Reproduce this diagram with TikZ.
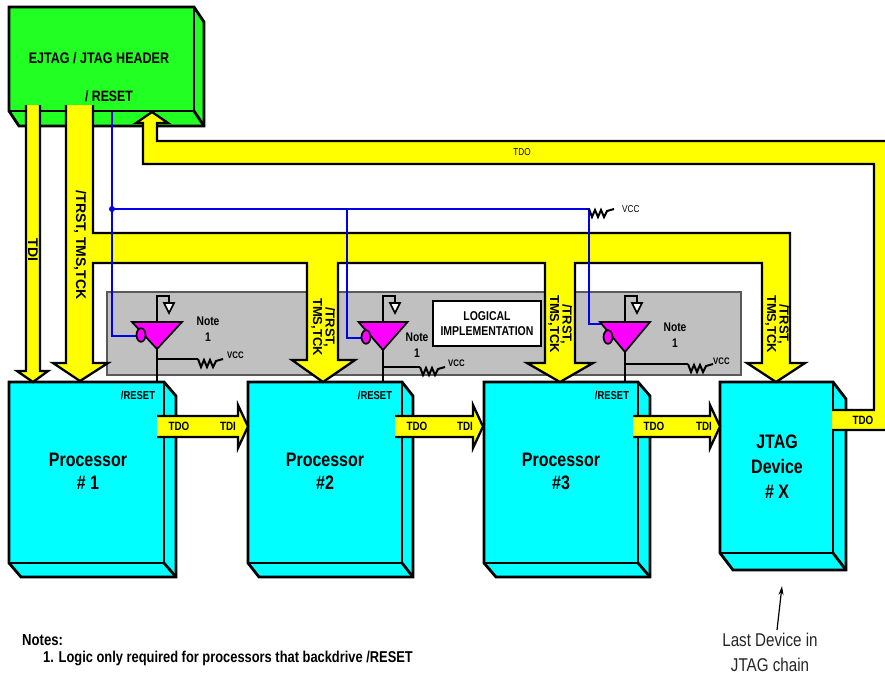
\documentclass[tikz,border=0pt]{standalone}
\usepackage{fontspec}
\setmainfont{Liberation Sans}
\newfontfamily\nar{Liberation Sans}[FakeStretch=0.82]
\usetikzlibrary{arrows.meta}
\definecolor{grn}{HTML}{22FF22}
\definecolor{cyn}{HTML}{00FFFF}
\definecolor{yel}{HTML}{FFFF00}
\definecolor{mag}{HTML}{FF00FF}
\definecolor{gry}{HTML}{C0C0C0}
\definecolor{blu}{HTML}{0000EE}
\tikzset{
  edge/.style={draw=black, line width=2.8pt, line join=miter},
  bus/.style={draw=black, line width=2.3pt, fill=yel, line join=miter},
  blueline/.style={draw=blu, line width=2.4pt},
  wire/.style={draw=black, line width=1.7pt},
  wirethick/.style={draw=black, line width=2.6pt},
  resline/.style={draw=black, line width=2pt, line join=miter},
  nb/.style 2 args={font=\nar\bfseries\fontsize{#1}{#2}\selectfont, inner sep=0pt, align=center},
  nr/.style 2 args={font=\nar\fontsize{#1}{#2}\selectfont, inner sep=0pt, align=center},
  rb/.style 2 args={font=\bfseries\fontsize{#1}{#2}\selectfont, rotate=-90, inner sep=0pt, align=center},
}
% 3D box: x1 y1 x2 y2 dx dy colour
\newcommand\solidbox[7]{%
  \draw[edge, fill=#7] (#1,#2) -- (#3,#2) -- (#3+#5,#2+#6) -- (#3+#5,#4+#6) -- (#1+#5,#4+#6) -- (#1,#4) -- cycle;
  \draw[edge] (#1,#2) rectangle (#3,#4);
  \draw[edge] (#3,#4) -- (#3+#5,#4+#6);}
% TDO->TDI arrow: x start, x head base, x tip
\newcommand\tdoarrow[3]{%
  \draw[bus] (#1,416) -- (#2,416) -- (#2,405) -- (#3,426.5) -- (#2,448) -- (#2,437) -- (#1,437);}
% resistor starting at x,y
\newcommand\resist[2]{%
  \draw[resline] (#1,#2) -- ++(3,8) -- ++(3,-7) -- ++(3,7) -- ++(3,-7) -- ++(3,7) -- ++(3,-6) -- ++(7,-2);}
% inverter: cx, ytop, half width, ytip, bubble x, bubble y
\newcommand\inverter[6]{%
  \draw[wire] (#1,#2) -- (#1,#2-26) -- (#1+12,#2-26) -- (#1+12,#2-19);
  \draw[wire, fill=white] (#1+7,#2-19) -- (#1+17,#2-19) -- (#1+12,#2-9) -- cycle;
  \draw[wire, fill=mag] (#1-#3,#2) -- (#1+#3,#2) -- (#1,#4) -- cycle;
  \draw[wire, fill=mag] (#5,#6) ellipse (4.5pt and 6.8pt);}
\begin{document}
\begin{tikzpicture}[x=1pt,y=-1pt]
\useasboundingbox (0,0) rectangle (885,675);
\clip (0,0) rectangle (885,675);
\fill[white] (0,0) rectangle (885,675);

% grey region of the logic
\draw[draw=black!65, fill=gry, line width=1.2pt] (107,292) rectangle (741,375);
\node[draw=black, line width=1.8pt, fill=white, minimum width=108pt, minimum height=45pt, nb={12.8}{15}] (logic) at (487,323.5) {LOGICAL\\IMPLEMENTATION};

% boxes
\solidbox{9}{7}{194}{111}{10}{15}{grn}
\solidbox{9}{382}{164}{563}{12}{14}{cyn}
\solidbox{248}{382}{402}{563}{11}{14}{cyn}
\solidbox{484}{382}{638}{563}{12}{14}{cyn}
\solidbox{720}{382}{833}{553}{13}{17}{cyn}

% header text
\node[nb={15.3}{17}] (hdr) at (99,58) {EJTAG / JTAG HEADER};
\node[nb={15}{17}] (hdrreset) at (109,96) {/ RESET};

% buses
\draw[bus] (40,105) -- (40,371) -- (48,371) -- (33,382) -- (17,371) -- (26,371) -- (26,105);
\draw[bus] (93,105) -- (93,233) -- (790,233) -- (790,363) -- (805,363) -- (776,382) -- (747,363) -- (762,363)
  -- (762,263) -- (575,263) -- (575,363) -- (593,363) -- (560,382) -- (527,363) -- (545,363)
  -- (545,263) -- (338,263) -- (338,360) -- (355,360) -- (323,382) -- (292,360) -- (307,360)
  -- (307,263) -- (93,263) -- (93,363) -- (108,363) -- (80,381) -- (53,363) -- (66,363) -- (66,105);
\draw[bus] (832,410) -- (874,410) -- (874,164) -- (143,164) -- (143,123) -- (136,123) -- (152,112)
  -- (168,123) -- (157,123) -- (157,141) -- (900,141) -- (900,430) -- (832,430);
\tdoarrow{157}{238}{248}
\tdoarrow{395}{473}{483}
\tdoarrow{633}{710}{720}

% bus labels
\node[rb={14}{14}] (ltdi) at (33,250) {TDI};
\node[rb={14}{14}] (ltrst) at (80,245) {/TRST, TMS,TCK};
\node[rb={13}{12.5}] (ltrst2) at (323,327) {/TRST,\\TMS,TCK};
\node[rb={13}{12.5}] (ltrst3) at (560,324) {/TRST,\\TMS,TCK};
\node[rb={13}{12.5}] (ltrstx) at (777,324) {/TRST,\\TMS,TCK};
\node[nr={10}{10}] (ltdotop) at (522,152) {TDO};
\node[nb={12}{12}] (o1) at (179,426.5) {TDO};
\node[nb={12}{12}] (i2) at (228,426.5) {TDI};
\node[nb={12}{12}] (o2) at (417,426.5) {TDO};
\node[nb={12}{12}] (i3) at (465,426.5) {TDI};
\node[nb={12}{12}] (o3) at (654,426.5) {TDO};
\node[nb={12}{12}] (ix) at (704,426.5) {TDI};
\node[nb={12}{12}] (ox) at (863,420) {TDO};

% box texts
\node[nb={19.5}{23}] (p1) at (88,471.5) {Processor\\\# 1};
\node[nb={19.5}{23}] (p2) at (325,471.5) {Processor\\\#2};
\node[nb={19.5}{23}] (p3) at (561,471.5) {Processor\\\#3};
\node[nb={19.5}{25}] (px) at (777,467) {JTAG\\Device\\\# X};
\node[nb={11.5}{12}] (r1) at (138,395) {/RESET};
\node[nb={11.5}{12}] (r2) at (375,395) {/RESET};
\node[nb={11.5}{12}] (r3) at (612,395) {/RESET};

% reset net (blue)
\coordinate (hr) at (112,112);
\coordinate (jn) at (112,209);
\coordinate (jn2) at (347,209);
\coordinate (pu) at (589,209);
\draw[blueline] (hr) -- (112,336) -- (137,336);
\draw[blueline] (jn) -- (pu) -- (589,324) -- (604,324);
\draw[blueline] (jn2) -- (347,338) -- (362,338);
\fill[blu] (jn) circle (3pt);
\resist{589}{209}
\node[nr={10}{10}, anchor=west] (vcctop) at (622,209) {VCC};

% inverters
\inverter{157}{322}{25}{349}{141}{335}
\inverter{383}{322}{24.5}{350}{366}{337}
\inverter{625}{322}{25}{352}{608}{337}
\draw[wire] (157,349) -- (157,382);
\draw[wire] (383,350) -- (383,382);
\draw[wire] (625,352) -- (625,382);
\draw[wirethick] (157,359) -- (198,359);
\resist{198}{359}
\draw[wirethick] (383,367) -- (420,367);
\resist{420}{367}
\draw[wirethick] (625,364) -- (688,364);
\resist{688}{364}
\node[nb={9.5}{10}, anchor=west] (v1) at (227,355) {VCC};
\node[nb={9.5}{10}, anchor=west] (v2) at (448,363) {VCC};
\node[nb={9.5}{10}, anchor=west] (v3) at (713,361) {VCC};
\node[nb={12.5}{16}] (n1) at (208,329) {Note\\1};
\node[nb={12.5}{16}] (n2) at (417,345) {Note\\1};
\node[nb={12.5}{16}] (n3) at (675,335.5) {Note\\1};

% notes
\node[nb={16}{16}, anchor=west] (notes) at (22,640) {Notes:};
\node[nb={15.7}{16}, anchor=west] (note1) at (43,658) {1. Logic only required for processors that backdrive /RESET};
\node[nr={18.5}{25}, text=black!85] (last) at (770,652) {Last Device in\\JTAG chain};
\coordinate (lasttip) at (782,586);
\draw[line width=1.2pt, -{Stealth[length=9pt,width=5pt]}] (777,630) -- (lasttip);
\end{tikzpicture}
\end{document}
